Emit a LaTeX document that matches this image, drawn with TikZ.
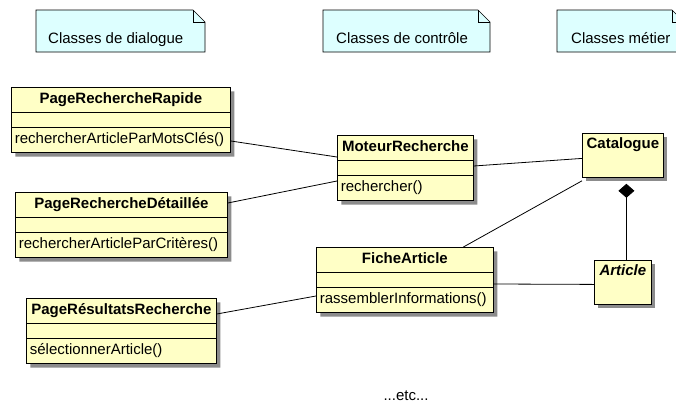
\documentclass[tikz,border=0pt]{standalone}
\usepackage{fontspec}
\setmainfont{Liberation Sans}
\usetikzlibrary{shapes.multipart,shadows,arrows.meta}

\definecolor{classfill}{RGB}{255,255,198}
\definecolor{notefill}{RGB}{221,255,255}
\definecolor{gris}{RGB}{140,140,140}

\tikzset{
  ombre/.style={drop shadow={shadow xshift=4pt,shadow yshift=-4pt,fill=gris,opacity=1}},
  classe/.style={rectangle split, rectangle split parts=3,
    rectangle split part align={center,left,left},
    rectangle split empty part height=0pt, rectangle split empty part depth=0pt,
    draw=black, line width=0.8pt, fill=classfill, ombre, anchor=north west,
    inner xsep=3.5pt, inner ysep=4.25pt, font=\fontsize{15}{16}\selectfont},
  entite/.style={draw=black, line width=0.8pt, fill=classfill, ombre, anchor=north west,
    text height=11pt, text depth=25pt, inner ysep=4pt, font=\fontsize{15}{16}\selectfont\bfseries},
  notebox/.style={draw=black, line width=0.6pt, fill=notefill},
  texte/.style={inner sep=0pt, font=\fontsize{15}{16}\selectfont},
  lien/.style={line width=0.8pt},
  compo/.style={lien, {Diamond[length=14pt,width=16pt]}-}
}

\begin{document}
\begin{tikzpicture}[x=1pt,y=-1pt]
\useasboundingbox (0,0) rectangle (676,405);
\clip (0,0) rectangle (676,405);

% notes du haut
\draw[notebox] (36,10) -- (193,10) -- (205,22) -- (205,52) -- (36,52) -- cycle;
\draw[notebox, fill=none] (193,10) -- (193,22) -- (205,22);
\node[texte, anchor=base west] (dialogue) at (48,43) {Classes de dialogue};

\draw[notebox] (323,10) -- (478,10) -- (490,22) -- (490,52) -- (323,52) -- cycle;
\draw[notebox, fill=none] (478,10) -- (478,22) -- (490,22);
\node[texte, anchor=base west] (controle) at (336,43) {Classes de contrôle};

\draw[notebox] (557,10) -- (672,10) -- (684,22) -- (684,52) -- (557,52) -- cycle;
\draw[notebox, fill=none] (672,10) -- (672,22) -- (684,22);
\node[texte, anchor=base west] (metier) at (571,43) {Classes métier};

% classes de dialogue
\node[classe, minimum width=219pt] (rapide) at (11,87)
  {\strut\textbf{PageRechercheRapide}\nodepart{two}\nodepart{three}\strut rechercherArticleParMotsClés()};
\node[classe, minimum width=212pt] (detaillee) at (15,192)
  {\strut\textbf{PageRechercheDétaillée}\nodepart{two}\nodepart{three}\strut rechercherArticleParCritères()};
\node[classe, minimum width=190pt] (resultats) at (26,298)
  {\strut\textbf{PageRésultatsRecherche}\nodepart{two}\nodepart{three}\strut sélectionnerArticle()};

% classes de controle
\node[classe, minimum width=136pt] (moteur) at (337,135)
  {\strut\textbf{MoteurRecherche}\nodepart{two}\nodepart{three}\strut rechercher()};
\node[classe, minimum width=177pt] (fiche) at (316,247)
  {\strut\textbf{FicheArticle}\nodepart{two}\nodepart{three}\strut rassemblerInformations()};

% classes metier
\node[entite, minimum width=81pt] (catalogue) at (582,133) {Catalogue};
\node[entite, minimum width=57pt] (article) at (594,260) {\itshape Article};

% associations
\draw[lien] ([yshift=-21pt]rapide.east) -- ([yshift=11pt]moteur.west);
\draw[lien] ([yshift=22pt]detaillee.east) -- ([yshift=-13pt]moteur.west);
\draw[lien] ([yshift=2pt]moteur.east) -- ([yshift=-3pt]catalogue.west);
\draw[lien] ([xshift=58.5pt]fiche.north) -- ([yshift=-3pt]catalogue.south west);
\draw[lien] ([yshift=17pt]resultats.east) -- ([yshift=-16pt]fiche.west);
\draw[lien] ([yshift=-4pt]fiche.east) -- ([yshift=-2pt]article.west);
\draw[compo, shorten <=6pt] ([xshift=3.5pt]catalogue.south) -- ([xshift=3.5pt]article.north);

\node[texte] (etc) at (406,396) {...etc...};
\end{tikzpicture}
\end{document}
